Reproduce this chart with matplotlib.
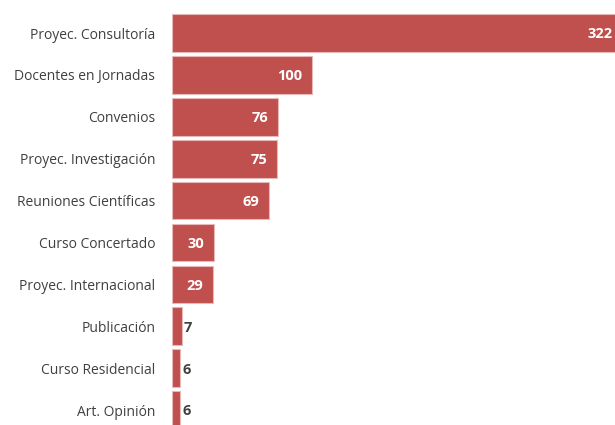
import matplotlib.pyplot as plt

categories = ['Proyec. Consultoría', 'Docentes en Jornadas', 'Convenios',
              'Proyec. Investigación', 'Reuniones Científicas', 'Curso Concertado',
              'Proyec. Internacional', 'Publicación', 'Curso Residencial', 'Art. Opinión']
values = [322, 100, 76, 75, 69, 30, 29, 7, 6, 6]

plt.rcParams['font.family'] = ['Open Sans', 'DejaVu Sans']

fig = plt.figure(figsize=(6.15, 4.25), dpi=100)
ax = fig.add_axes([172 / 615, 0, 1 - 172 / 615, 1])

ypos = list(range(len(categories)))
ax.barh(ypos, values, height=0.9, color='#C0504D', edgecolor='#E6B9B8', linewidth=0.8)

for y, v in zip(ypos, values):
    if v >= 20:
        ax.annotate(str(v), (v, y), xytext=(-7, -1), textcoords='offset points',
                    ha='right', va='center', color='white', fontsize=10.5,
                    fontweight='bold', annotation_clip=False)
    else:
        ax.annotate(str(v), (v, y), xytext=(1.5, -1), textcoords='offset points',
                    ha='left', va='center', color='#404040', fontsize=10.5, fontweight='bold')

ax.set_xlim(0, 316.4)
ax.set_ylim(9.356, -0.788)
ax.set_yticks(ypos)
ax.set_yticklabels(categories, fontsize=10, color='#404040')
ax.tick_params(axis='y', length=0, pad=12)
ax.set_xticks([])
for s in ax.spines.values():
    s.set_visible(False)

fig.savefig('out.png', dpi=100)
